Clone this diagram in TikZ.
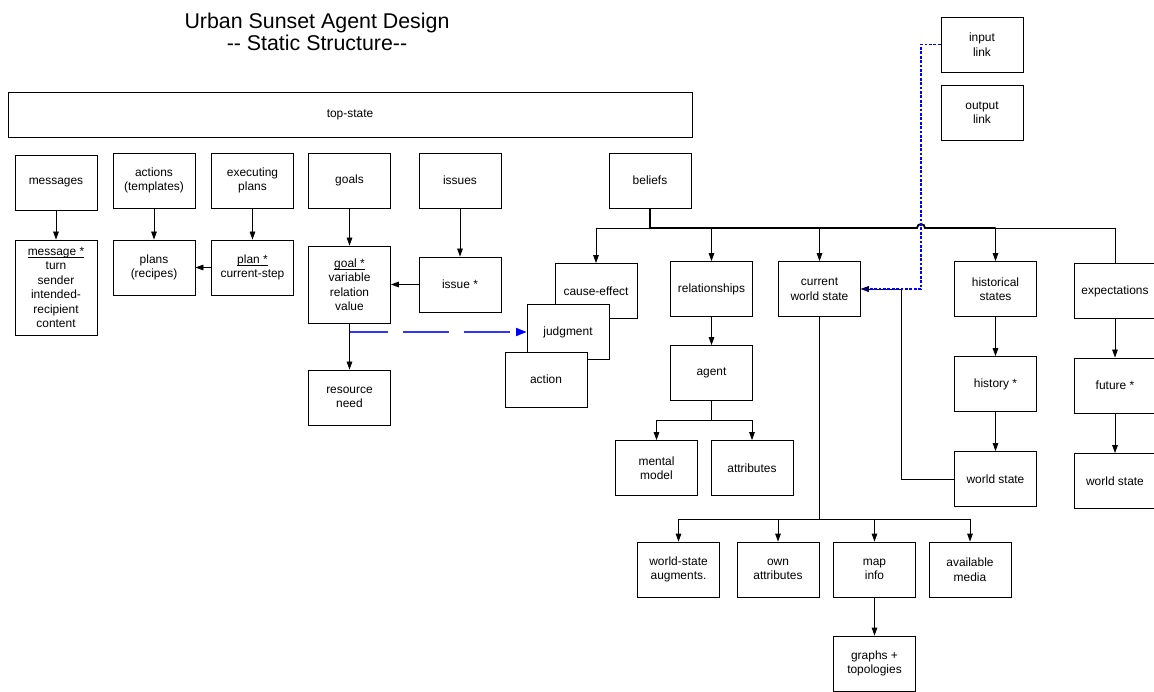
\documentclass[tikz,border=0pt]{standalone}
\usepackage{fontspec}
\setmainfont{Liberation Sans}[Ligatures=TeXOff]
\usetikzlibrary{arrows.meta}
\newcommand{\keyline}[1]{\underline{\raisebox{0pt}[\height][0pt]{#1}}}

\begin{document}
\begin{tikzpicture}[
  x=0.25mm, y=-0.25mm,
  font=\fontsize{8.5}{10.3}\selectfont,
  block/.style={
    draw,
    fill=white,
    align=center,
    line width=0.6pt,
    inner sep=0pt,
    minimum width=20.5mm,
    minimum height=13.75mm
  },
  arrow/.style={-{Triangle[length=2mm, width=1.4mm]}, line width=0.6pt},
  wire/.style={line width=0.6pt},
  trunk/.style={line width=1.3pt},
  link/.style={-{Triangle[length=2.6mm, width=2mm, color=blue]}, line width=1pt, draw=blue!80,
    dash pattern=on 9.5mm off 3.75mm on 11.5mm off 3.75mm on 11.5mm off 20mm},
  feed/.style={-{Triangle[length=2mm, width=1.4mm, color=blue!40!black]}, line width=0.8pt,
    draw=blue, dash pattern=on 0.7mm off 0.4mm}
]
\useasboundingbox (0,0) rectangle (1154,692);

\node[font=\fontsize{15.2}{15.2}\selectfont, align=center] (title) at (317,32)
  {Urban Sunset Agent Design\\-- Static Structure--};

\node[block, minimum width=171mm, minimum height=11.25mm] (topstate) at (350,114.5) {top-state};

% top row
\node[block] (messages) at (56,182.5) {messages};
\node[block] (actions) at (154,180.5) {actions\\(templates)};
\node[block] (executing) at (252.5,180.5) {executing\\plans};
\node[block] (goals) at (349.5,180.5) {goals};
\node[block] (issues) at (460,180.5) {issues};
\node[block] (beliefs) at (650,180.5) {beliefs};
\node[block] (inputlink) at (982,44.5) {input\\link};
\node[block] (outputlink) at (982,112.5) {output\\link};

\node[block, minimum height=23.75mm] (message) at (56,287.5)
  {\keyline{message *}\\turn\\sender\\intended-\\recipient\\content};
\node[block] (plans) at (154,267.5) {plans\\(recipes)};
\node[block] (plan) at (252.5,267.5) {\keyline{plan *}\\current-step};
\node[block, minimum height=19.25mm] (goal) at (349.5,284.5)
  {\keyline{goal *}\\variable\\relation\\value};
\node[block] (issue) at (460,284.5) {issue *};
\node[block] (resource) at (349.5,397.5) {resource\\need};

% stacked beliefs
\node[block] (causeeffect) at (596,291) {cause-effect};
\node[block] (judgment) at (568,332) {judgment};
\node[block] (action) at (546,379.5) {action};

\node[block] (relationships) at (711.5,289) {relationships};
\node[block] (cws) at (819.5,289) {current\\world state};
\node[block] (historical) at (995.5,289) {historical\\states};
\node[block] (expectations) at (1115,291) {expectations};

\node[block] (agent) at (711.5,373) {agent};
\node[block] (mental) at (656.5,468) {mental\\model};
\node[block] (attributes) at (752,468) {attributes};
\node[block] (history) at (995.5,384) {history *};
\node[block] (pastworld) at (995.5,479) {world state};
\node[block] (future) at (1115,385.5) {future *};
\node[block] (futureworld) at (1115,481) {world state};

\node[block] (augments) at (678.5,569.5) {world-state\\augments.};
\node[block] (ownattr) at (778,569.5) {own\\attributes};
\node[block] (mapinfo) at (874.5,569.5) {map\\info};
\node[block] (media) at (970,569.5) {available\\media};
\node[block] (graphs) at (874.5,663.5) {graphs +\\topologies};

\coordinate (bus) at (650,228);
\coordinate (hop) at (921,228);
\coordinate (back) at (901,289);
\coordinate (agbus) at (711.5,420);
\coordinate (wsbus) at (819.5,519);

\draw[arrow] (messages) -- (message);
\draw[arrow] (actions) -- (plans);
\draw[arrow] (executing) -- (plan);
\draw[arrow] (plan) -- (plans);
\draw[arrow] (goals) -- (goal);
\draw[arrow] (issues) -- (issue);
\draw[arrow] (issue) -- (goal);
\draw[arrow] (goal) -- (resource);
\draw[link] (goal.south |- judgment.west) -- (judgment.west);

\draw[arrow] (bus) -| (causeeffect.north);
\draw[arrow] (bus) -| (relationships.north);
\draw[arrow] (bus) -| (cws.north);
\draw[arrow] ([xshift=1mm]hop) -| (historical.north);
\draw[wire] ([xshift=1mm]hop) -| (expectations.north);
\draw[trunk] (beliefs.south) -- (bus) -- ([xshift=-1mm]hop)
  arc[start angle=180, end angle=0, radius=1mm] -- (hop -| historical.north);

\draw[arrow] (relationships) -- (agent);
\draw[wire] (agent.south) -- (agbus);
\draw[arrow] (agbus) -| (mental.north);
\draw[arrow] (agbus) -| (attributes.north);

\draw[arrow] (historical) -- (history);
\draw[arrow] (history) -- (pastworld);
\draw[arrow] (expectations) -- (future);
\draw[arrow] (future) -- (futureworld);
\draw[arrow] (pastworld.west) -| (back) -- (cws.east);
\draw[feed] (inputlink.west) -| (hop |- cws.east) -- (cws.east);

\draw[wire] (cws.south) -- (wsbus);
\draw[arrow] (wsbus) -| (augments.north);
\draw[arrow] (wsbus) -| (ownattr.north);
\draw[arrow] (wsbus) -| (mapinfo.north);
\draw[arrow] (wsbus) -| (media.north);
\draw[arrow] (mapinfo) -- (graphs);

\end{tikzpicture}
\end{document}
